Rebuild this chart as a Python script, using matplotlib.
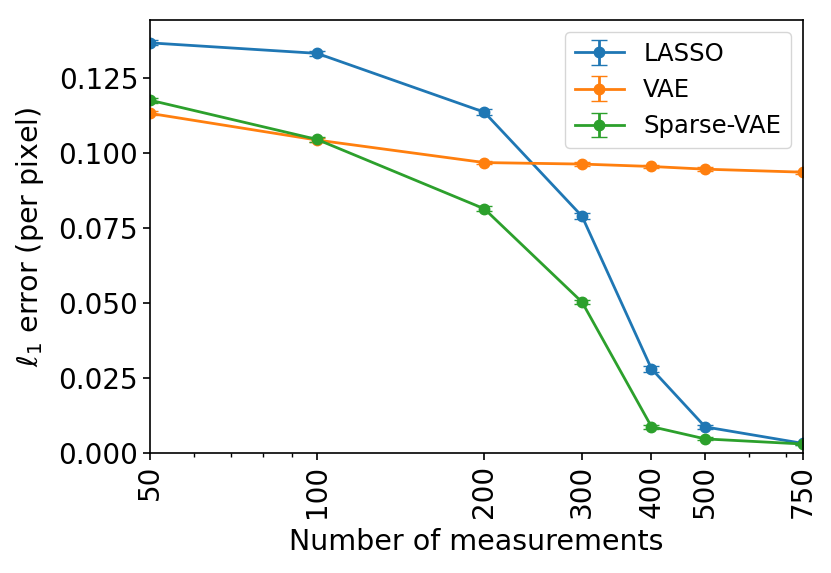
import numpy as np
import matplotlib
matplotlib.use('Agg')
import matplotlib.pyplot as plt
from matplotlib.ticker import FixedLocator, NullFormatter, ScalarFormatter

measurements = [50, 100, 200, 300, 400, 500, 750]
lasso = [0.1367, 0.1332, 0.1136, 0.0789, 0.0281, 0.0087, 0.0032]
vae = [0.1132, 0.1043, 0.0968, 0.0963, 0.0955, 0.0946, 0.0936]
sparse_vae = [0.1176, 0.1045, 0.0814, 0.0503, 0.0088, 0.0047, 0.0030]
lasso_err = [0.0008, 0.0008, 0.0009, 0.0010, 0.0010, 0.0008, 0.0004]
vae_err = [0.0007, 0.0006, 0.0006, 0.0006, 0.0006, 0.0006, 0.0005]
sparse_err = [0.0008, 0.0007, 0.0008, 0.0008, 0.0007, 0.0005, 0.0003]

fig, ax = plt.subplots(figsize=(8.31, 5.73), dpi=100)
fig.subplots_adjust(left=0.1805, right=0.9663, top=0.965, bottom=0.2094)

ax.errorbar(measurements, lasso, yerr=lasso_err, marker='o', capsize=6, lw=2, ms=7.5, label='LASSO')
ax.errorbar(measurements, vae, yerr=vae_err, marker='o', capsize=6, lw=2, ms=7.5, label='VAE')
ax.errorbar(measurements, sparse_vae, yerr=sparse_err, marker='o', capsize=6, lw=2, ms=7.5, label='Sparse-VAE')

ax.set_xscale('log')
ax.set_xlim(50, 750)
ax.set_ylim(0, 0.1443)
ax.xaxis.set_major_locator(FixedLocator(measurements))
ax.xaxis.set_major_formatter(ScalarFormatter())
ax.xaxis.set_minor_formatter(NullFormatter())
ax.set_yticks([0, 0.025, 0.05, 0.075, 0.1, 0.125])
ax.set_yticklabels(['0.000', '0.025', '0.050', '0.075', '0.100', '0.125'])
ax.tick_params(axis='both', labelsize=20, length=5, width=1.2)
ax.tick_params(axis='x', which='minor', length=3, width=1)
for s in ax.spines.values():
    s.set_linewidth(1.2)
plt.setp(ax.get_xticklabels(), rotation=90)

ax.set_xlabel('Number of measurements', fontsize=20.5, labelpad=7)
ax.set_ylabel(r'$\ell_1$ error (per pixel)', fontsize=20.5, labelpad=9)
ax.legend(fontsize=17.5, loc='upper right')

plt.savefig('out.png')
